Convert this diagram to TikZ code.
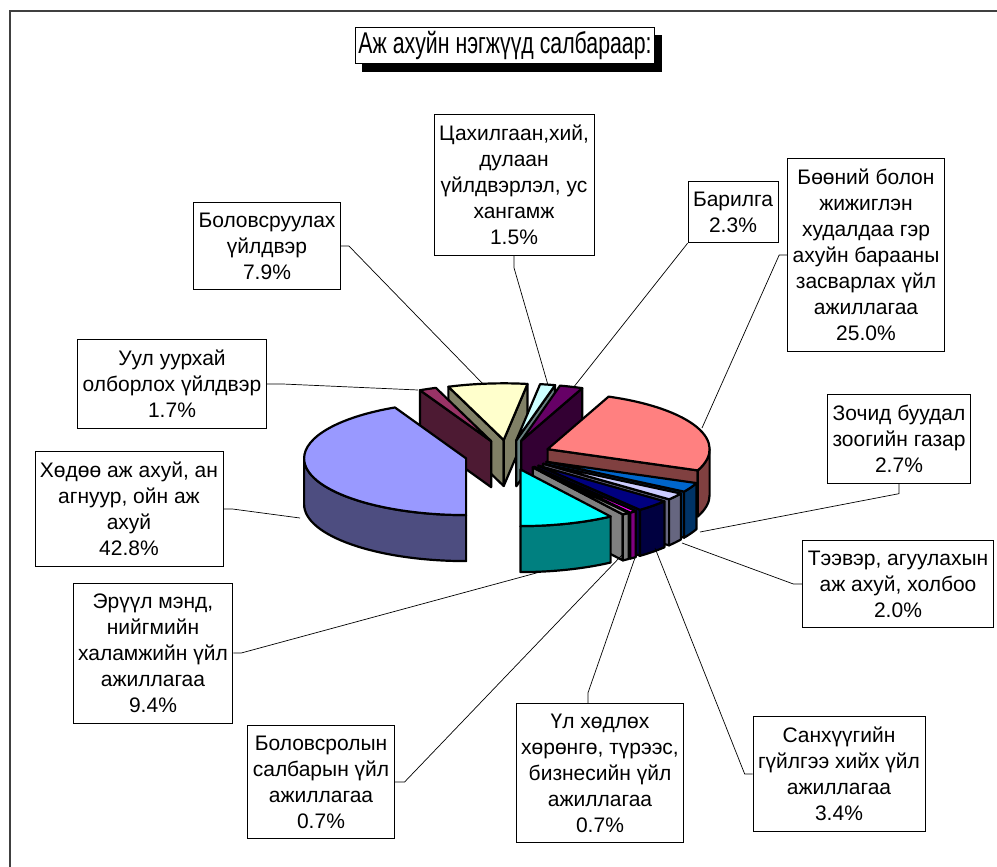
\documentclass[tikz,border=0pt]{standalone}
\usepackage{fontspec}
\setmainfont{Liberation Sans}
\newfontfamily\narrowfont{Liberation Sans}[FakeStretch=0.71]
\usetikzlibrary{shadows}

\definecolor{framegray}{HTML}{404040}
\definecolor{cLav}{HTML}{9999FF}   \definecolor{sLav}{HTML}{4D4D80}
\definecolor{cPlum}{HTML}{993366}  \definecolor{sPlum}{HTML}{4D1A33}
\definecolor{cYel}{HTML}{FFFFCC}   \definecolor{sYel}{HTML}{808066}
\definecolor{cLcy}{HTML}{CCFFFF}   \definecolor{sLcy}{HTML}{668080}
\definecolor{cPur}{HTML}{660066}   \definecolor{sPur}{HTML}{330033}
\definecolor{cSal}{HTML}{FF8080}   \definecolor{sSal}{HTML}{804040}
\definecolor{cBlu}{HTML}{0066CC}   \definecolor{sBlu}{HTML}{003366}
\definecolor{cPal}{HTML}{CCCCFF}   \definecolor{sPal}{HTML}{666680}
\definecolor{cNav}{HTML}{000080}   \definecolor{sNav}{HTML}{000040}
\definecolor{cMag}{HTML}{FF00FF}   \definecolor{sMag}{HTML}{800080}
\definecolor{cGry}{HTML}{A0A0A0}   \definecolor{sGry}{HTML}{808080}
\definecolor{cCya}{HTML}{00FFFF}   \definecolor{sCya}{HTML}{008080}

% pie: centre, radius, squash, explosion, depth
\def\pieCX{508}\def\pieCY{455}\def\pieR{162}\def\pieK{0.35}\def\pieE{43}\def\pieH{46}

% one exploded slice: start angle, end angle, top colour, wall colour
\newcommand\pieslice[4]{%
  \pgfmathsetmacro\wMid{(#1+#2)/2}%
  \pgfmathsetmacro\wAx{\pieCX+\pieE*cos(\wMid)}%
  \pgfmathsetmacro\wAy{\pieCY+\pieK*\pieE*sin(\wMid)}%
  \pgfmathsetmacro\wRy{\pieK*\pieR}%
  \pgfmathsetmacro\wSx{\wAx+\pieR*cos(#1)}%
  \pgfmathsetmacro\wSy{\wAy+\wRy*sin(#1)}%
  \pgfmathsetmacro\wEx{\wAx+\pieR*cos(#2)}%
  \pgfmathsetmacro\wEy{\wAy+\wRy*sin(#2)}%
  \pgfmathtruncatemacro\wVis{cos(#1)<0}%
  \ifnum\wVis=1
    \filldraw[wedge,fill=#4] (\wAx,\wAy) -- (\wSx,\wSy) -- (\wSx,\wSy+\pieH) -- (\wAx,\wAy+\pieH) -- cycle;
  \fi
  \pgfmathtruncatemacro\wVis{cos(#2)>0}%
  \ifnum\wVis=1
    \filldraw[wedge,fill=#4] (\wAx,\wAy) -- (\wEx,\wEy) -- (\wEx,\wEy+\pieH) -- (\wAx,\wAy+\pieH) -- cycle;
  \fi
  \foreach \wa/\wb in {0/180,360/540}{%
    \pgfmathsetmacro\wLo{max(#1,\wa)}%
    \pgfmathsetmacro\wUp{min(#2,\wb)}%
    \ifdim\wLo pt<\wUp pt
      \filldraw[wedge,fill=#4] ({\wAx+\pieR*cos(\wLo)},{\wAy+\wRy*sin(\wLo)})
        arc[start angle=\wLo,end angle=\wUp,x radius=\pieR,y radius=\wRy]
        -- ++(0,\pieH)
        arc[start angle=\wUp,end angle=\wLo,x radius=\pieR,y radius=\wRy] -- cycle;
    \fi}%
  \filldraw[wedge,fill=#3] (\wAx,\wAy) -- (\wSx,\wSy)
    arc[start angle=#1,end angle=#2,x radius=\pieR,y radius=\wRy] -- cycle;
}

\begin{document}
\begin{tikzpicture}[x=1pt,y=-1pt,
  wedge/.style={draw=black,line width=2.2pt,line join=round},
  lbl/.style={draw=black,line width=0.8pt,fill=white,align=center,
    inner xsep=5pt,inner ysep=10.5pt,font=\fontsize{21}{26}\selectfont},
  leader/.style={line width=0.7pt}]

\useasboundingbox (0,0) rectangle (997,867);

% frame
\draw[framegray,line width=2.5pt] (10,867) -- (10,11) -- (997,11);

% title
\node[draw=black,line width=0.8pt,fill=white,inner xsep=3pt,inner ysep=4pt,
  drop shadow={shadow xshift=7pt,shadow yshift=-8pt,fill=black,opacity=1},
  font=\narrowfont\fontsize{30}{31}\selectfont] (title) at (505,45.5)
  {Аж ахуйн нэгжүүд салбараар:};

% slices, back to front
\foreach \a/\b/\ct/\cs in {250.04/278.45/cYel/sYel, 278.45/283.85/cLcy/sLcy,
    283.85/292.12/cPur/sPur, 243.93/250.04/cPlum/sPlum,
    292.12/382.03/cSal/sSal, 90/243.93/cLav/sLav,
    382.03/391.74/cBlu/sBlu, 391.74/398.93/cPal/sPal,
    398.93/411.16/cNav/sNav, 411.16/413.68/cMag/sMag,
    413.68/416.19/cGry/sGry, 416.19/450/cCya/sCya}
  {\pieslice{\a}{\b}{\ct}{\cs}}

% labels
\node[lbl] (lCah) at (514,185) {Цахилгаан,хий,\\дулаан\\үйлдвэрлэл, ус\\хангамж\\1.5\%};
\node[lbl] (lBar) at (733,212) {Барилга\\2.3\%};
\node[lbl] (lBoo) at (866,255) {Бөөний болон\\жижиглэн\\худалдаа гэр\\ахуйн барааны\\засварлах үйл\\ажиллагаа\\25.0\%};
\node[lbl] (lBov) at (267,246) {Боловсруулах\\үйлдвэр\\7.9\%};
\node[lbl] (lUul) at (172,384) {Уул уурхай\\олборлох үйлдвэр\\1.7\%};
\node[lbl] (lZoc) at (899,439) {Зочид буудал\\зоогийн газар\\2.7\%};
\node[lbl] (lHod) at (129,509) {Хөдөө аж ахуй, ан\\агнуур, ойн аж\\ахуй\\42.8\%};
\node[lbl] (lTee) at (898,584) {Тээвэр, агуулахын\\аж ахуй, холбоо\\2.0\%};
\node[lbl] (lEru) at (153,653) {Эрүүл мэнд,\\нийгмийн\\халамжийн үйл\\ажиллагаа\\9.4\%};
\node[lbl] (lBol) at (321,782) {Боловсролын\\салбарын үйл\\ажиллагаа\\0.7\%};
\node[lbl] (lUlh) at (600,773) {Үл хөдлөх\\хөрөнгө, түрээс,\\бизнесийн үйл\\ажиллагаа\\0.7\%};
\node[lbl] (lSan) at (839,774) {Санхүүгийн\\гүйлгээ хийх үйл\\ажиллагаа\\3.4\%};

% leader ends on the slices
\coordinate (pCah) at (548,385);
\coordinate (pBar) at (573,388);
\coordinate (pBoo) at (702,428);
\coordinate (pZoc) at (700,532);
\coordinate (pTee) at (682,543);
\coordinate (pSan) at (655,548);
\coordinate (pUlh) at (637,552);
\coordinate (pBol) at (622,555);
\coordinate (pEru) at (540,572);
\coordinate (pHod) at (300,518);
\coordinate (pUul) at (418,390);
\coordinate (pBov) at (484,385);

\draw[leader] (lCah.south) -- ++(0,12) -- (pCah);
\draw[leader] (lBar.south west) -- (pBar);
\draw[leader] (lBoo.west) -- ++(-8,0) -- (pBoo);
\draw[leader] (lZoc.south) -- ++(0,10) -- (pZoc);
\draw[leader] (lTee.west) -- ++(-9,0) -- (pTee);
\draw[leader] (lSan.west) -- ++(-8,0) -- (pSan);
\draw[leader] ([xshift=-12pt]lUlh.north) -- ++(0,-10) -- (pUlh);
\draw[leader] (lBol.east) -- ++(10,0) -- (pBol);
\draw[leader] (lEru.east) -- ++(8,0) -- (pEru);
\draw[leader] (lHod.east) -- ++(9,0) -- (pHod);
\draw[leader] (lUul.east) -- ++(16,0) -- (pUul);
\draw[leader] (lBov.east) -- ++(8,0) -- (pBov);
\end{tikzpicture}
\end{document}
